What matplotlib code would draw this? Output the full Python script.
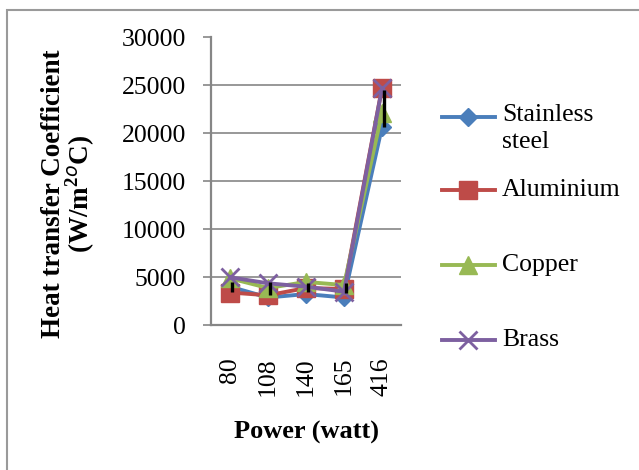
import matplotlib
matplotlib.use("Agg")
import matplotlib.pyplot as plt
from matplotlib.lines import Line2D
from matplotlib.patches import Rectangle

plt.rcParams['font.family'] = ['Liberation Serif', 'DejaVu Serif']
plt.rcParams['mathtext.fontset'] = 'custom'
plt.rcParams['mathtext.rm'] = 'Liberation Serif:bold'
plt.rcParams['mathtext.bf'] = 'Liberation Serif:bold'

# ---- data ----
power = ['80', '108', '140', '165', '416']
stainless = [4000, 2870, 3230, 2870, 20660]
aluminium = [3390, 3100, 3860, 3760, 24730]
copper = [4870, 3860, 4490, 4170, 22120]
brass = [4980, 4350, 4000, 3480, 24700]
bar_low = [3480, 3130, 3480, 3310, 20690]
bar_high = [4520, 4520, 4350, 4350, 24520]
yticks = [0, 5000, 10000, 15000, 20000, 25000, 30000]

series = [
    ('Stainless\nsteel', stainless, '#4A7EBB', 'D', 9.5),
    ('Aluminium', aluminium, '#BE4B48', 's', 12.5),
    ('Copper', copper, '#98B954', '^', 12.5),
    ('Brass', brass, '#7D60A0', 'x', 12.5),
]

W, H = 639, 470
fig = plt.figure(figsize=(W / 100, H / 100), dpi=100)
ax = fig.add_axes([211 / W, 1 - 325 / H, 190 / W, (325 - 37.5) / H])

x = list(range(len(power)))
for label, vals, col, mk, ms in series:
    kw = dict(markeredgewidth=2) if mk == 'x' else dict(markeredgecolor=col)
    ax.plot(x, vals, color=col, lw=2.8, marker=mk, markersize=ms,
            markerfacecolor=col, **kw)

ax.vlines([xi + 0.04 for xi in x], bar_low, bar_high, colors='black', lw=2.4, zorder=5)

ax.set_xlim(-0.5, len(power) - 0.5)
ax.set_ylim(0, 30000)
ax.set_yticks(yticks)
ax.set_yticklabels([str(v) for v in yticks])
ax.set_xticks(x)
ax.set_xticklabels(power, rotation=90)
ax.grid(axis='y', color='#868686', lw=1.2)
ax.set_axisbelow(True)
for s in ['top', 'right']:
    ax.spines[s].set_visible(False)
for s in ['left', 'bottom']:
    ax.spines[s].set_color('#868686')
    ax.spines[s].set_linewidth(1.6)
ax.tick_params(axis='y', length=6, width=1.2, color='#868686', pad=12, labelsize=18.5)
ax.tick_params(axis='x', length=0, pad=23, labelsize=18.5)

fig.text(69 / W, 1 - 194 / H, 'Heat transfer Coefficient\n(W/m$^{2o}$C)',
         rotation=90, ha='center', va='center', fontsize=19.5, fontweight='bold',
         multialignment='center', linespacing=0.92)
fig.text(306 / W, 1 - 432 / H, 'Power (watt)', ha='center', va='center',
         fontsize=19, fontweight='bold')

# legend (manual placement)
leg_rows = [117, 190, 265, 340]
for (label, vals, col, mk, ms), yy in zip(series, leg_rows):
    yf = 1 - yy / H
    kw = dict(markeredgewidth=2) if mk == 'x' else dict(markeredgecolor=col)
    fig.add_artist(Line2D([442 / W, 495 / W], [yf, yf], color=col, lw=2.8,
                          transform=fig.transFigure))
    fig.add_artist(Line2D([468 / W], [yf], color=col, marker=mk, markersize=ms,
                          markerfacecolor=col, transform=fig.transFigure, **kw))
    if '\n' in label:
        fig.text(502 / W, 1 - (yy - 13) / H, label, ha='left', va='top', fontsize=18.5,
                 linespacing=1.3)
    else:
        fig.text(502 / W, yf, label, ha='left', va='center', fontsize=18.5)

fig.patches.append(Rectangle((7 / W, -0.1), 2, 1 - 10 / H + 0.1, transform=fig.transFigure,
                             fill=False, edgecolor='#9a9a9a', lw=1.5))

fig.savefig('out.png', dpi=100)
